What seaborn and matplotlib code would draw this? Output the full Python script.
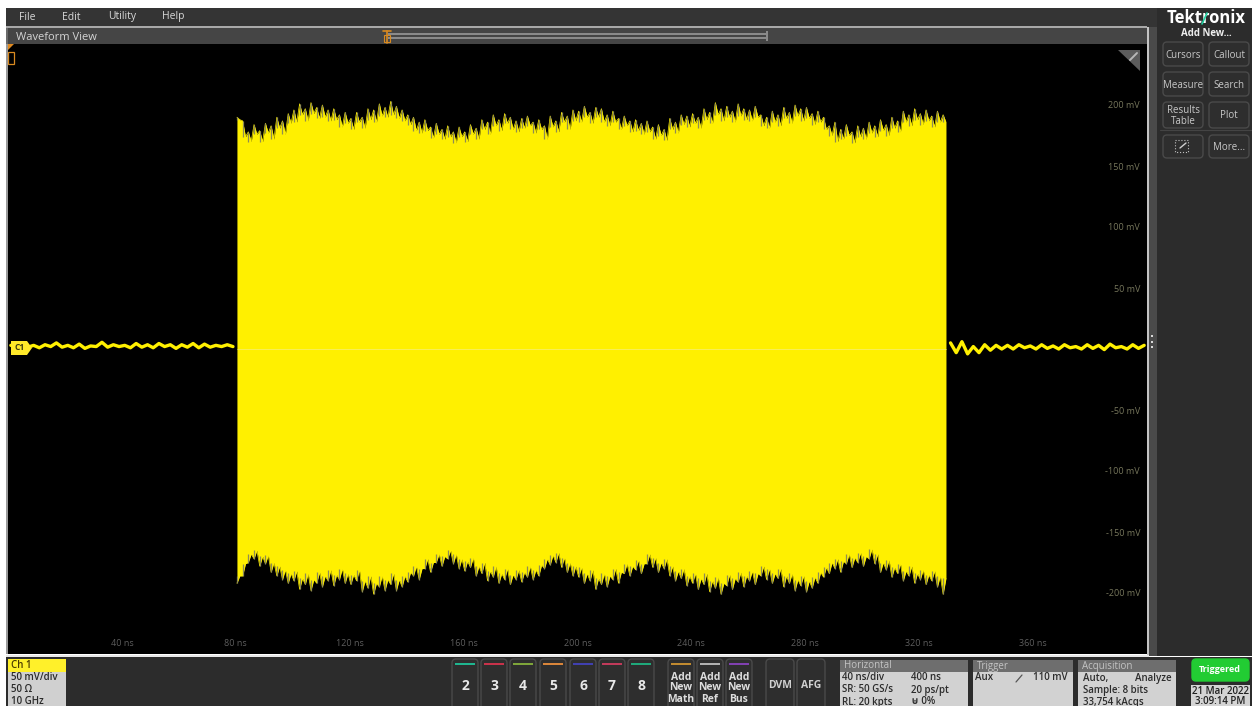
"""Oscilloscope screenshot: 50 mV RF burst on channel 1 with the scope UI around it."""

import matplotlib
matplotlib.use("Agg")
import matplotlib.pyplot as plt
from matplotlib.patches import FancyBboxPatch, Polygon, Rectangle
import seaborn as sns

# waveform data, times in ns and levels in mV
x_ticks = [40, 80, 120, 160, 200, 240, 280, 320, 360]
x_tick_labels = ["40 ns", "80 ns", "120 ns", "160 ns", "200 ns", "240 ns",
                 "280 ns", "320 ns", "360 ns"]
y_ticks = [200, 150, 100, 50, -50, -100, -150, -200]
y_tick_labels = ["200 mV", "150 mV", "100 mV", "50 mV", "-50 mV", "-100 mV",
                 "-150 mV", "-200 mV"]

# sample times of the burst outline, spike tips and the notches between them
burst_time = [t + 0.4 for t in range(80, 330)]
upper_tips = [
    190, 187, 178, 184, 179, 185, 183, 190, 187, 193,
    196, 201, 197, 202, 198, 200, 196, 197, 192, 194,
    189, 194, 190, 197, 196, 201, 198, 203, 199, 196,
    192, 190, 186, 188, 182, 185, 180, 183, 178, 182,
    178, 184, 181, 188, 186, 192, 188, 193, 190, 187,
    189, 191, 186, 188, 183, 191, 187, 194, 191, 196,
    195, 199, 194, 198, 197, 192, 195, 189, 191, 187,
    188, 185, 187, 182, 184, 180, 189, 186, 192, 191,
    193, 190, 197, 194, 202, 197, 199, 195, 201, 197,
    196, 199, 192, 190, 195, 192, 198, 194, 200, 197,
    198, 193, 195, 190, 183, 186, 180, 184, 178, 183,
    181, 186, 183, 188, 184, 190, 187, 195, 192, 197,
    193, 196, 191, 195, 192]
upper_body = [
    188, 174, 170, 176, 170, 177, 172, 181, 176, 185,
    186, 192, 187, 193, 189, 190, 187, 188, 182, 185,
    180, 186, 181, 188, 186, 191, 190, 192, 189, 187,
    184, 179, 177, 179, 173, 176, 172, 174, 169, 174,
    170, 176, 172, 180, 176, 183, 179, 185, 180, 178,
    181, 183, 177, 180, 172, 182, 178, 186, 180, 187,
    186, 190, 185, 190, 186, 183, 186, 180, 183, 178,
    179, 176, 178, 172, 175, 171, 180, 177, 184, 182,
    185, 181, 188, 185, 192, 187, 190, 186, 191, 188,
    187, 190, 183, 181, 186, 183, 189, 185, 191, 187,
    189, 184, 186, 180, 175, 170, 172, 175, 169, 174,
    172, 177, 174, 179, 175, 181, 178, 186, 183, 188,
    184, 187, 182, 186, 186]
lower_tips = [
    -192, -186, -175, -172, -178, -176, -183, -186, -189, -192,
    -190, -197, -193, -198, -192, -195, -190, -194, -189, -192,
    -193, -190, -199, -196, -201, -195, -198, -193, -198, -195,
    -191, -186, -189, -180, -183, -175, -178, -172, -176, -180,
    -182, -179, -186, -184, -190, -187, -192, -189, -193, -189,
    -191, -187, -189, -186, -180, -177, -175, -179, -183, -186,
    -187, -192, -190, -197, -193, -195, -189, -192, -184, -186,
    -181, -184, -176, -179, -183, -180, -186, -190, -188, -194,
    -192, -197, -193, -199, -196, -201, -194, -197, -191, -195,
    -190, -193, -186, -189, -192, -188, -195, -192, -198, -194,
    -199, -196, -192, -187, -184, -180, -183, -176, -179, -175,
    -178, -172, -176, -183, -181, -187, -184, -190, -186, -192,
    -189, -193, -190, -195, -201]
lower_body = [
    -186, -176, -168, -165, -170, -169, -175, -178, -181, -184,
    -182, -188, -184, -189, -183, -186, -181, -185, -180, -184,
    -185, -181, -190, -186, -192, -186, -189, -184, -189, -186,
    -183, -178, -180, -172, -175, -168, -170, -165, -168, -172,
    -174, -171, -178, -175, -182, -178, -184, -180, -185, -181,
    -183, -178, -181, -177, -172, -169, -167, -171, -175, -178,
    -179, -184, -181, -188, -184, -186, -180, -183, -176, -178,
    -173, -176, -168, -171, -175, -172, -178, -182, -180, -186,
    -184, -188, -184, -190, -187, -192, -185, -188, -183, -186,
    -182, -184, -178, -180, -184, -180, -186, -184, -189, -186,
    -190, -187, -183, -179, -175, -172, -174, -168, -171, -167,
    -170, -164, -168, -175, -173, -179, -176, -182, -178, -184,
    -181, -185, -182, -186, -188]

idle_time_before = list(range(1, 80, 2))
idle_level_before = [
    3, 2, 4, 1.5, 3, 1, 3.5, 2, 5, 1.5,
    3, 1, 4, 0.5, 2.5, 2, 5.5, 1.5, 3.5, 2,
    3, 1, 4.5, 1.5, 3.5, 1, 4.5, 2, 3.5, 0.5,
    3.5, 1.5, 4.5, 1, 4, 1.5, 3, 2, 3.5, 2]
idle_time_after = list(range(331, 400, 2))
idle_level_after = [
    5, -3, 6, -4, 2, -3, 3.5, -1, 3, 0,
    3, 0, 3.5, 1, 2.5, 0, 3.5, 0.5, 2.5, 0,
    3.5, 1, 2, 0, 3.5, 0.5, 3, -0.5, 4, 1,
    2, 0, 3.5, 0.5, 3]

# top and bottom bar text
menu_items = ["File", "Edit", "Utility", "Help"]
menu_x = [27, 71, 122, 173]
channel_numbers = ["2", "3", "4", "5", "6", "7", "8"]
channel_x = [465, 494, 523, 553, 583, 612, 641]
channel_colors = ["#1fb58f", "#c8324a", "#7ea53a", "#d9853a", "#4040b0",
                  "#c03a5a", "#1fa87a"]
add_labels = ["Add\nNew\nMath", "Add\nNew\nRef", "Add\nNew\nBus"]
add_x = [681, 710, 739]
add_colors = ["#c08a30", "#b0b0b0", "#8040b0"]

W, H = 1252, 706
PLOT_L, PLOT_R, PLOT_T, PLOT_B = 8, 1147, 44, 654
YELLOW = "#fff000"
FRINGE = "#8f8b55"
PANEL = "#2c2c2c"
FONT = ["Open Sans", "DejaVu Sans"]

sns.set_theme(style="dark")
plt.rcParams["font.family"] = FONT

fig = plt.figure(figsize=(W / 100, H / 100), dpi=100, facecolor="white")
ax = fig.add_axes([PLOT_L / W, 1 - PLOT_B / H, (PLOT_R - PLOT_L) / W,
                   (PLOT_B - PLOT_T) / H], facecolor="black", zorder=1)

# burst outline zigzags between spike tips and notches
upper_outline = [v for pair in zip(upper_tips, upper_body) for v in pair]
lower_outline = [v for pair in zip(lower_tips, lower_body) for v in pair]
tip_time = burst_time[::2]

ax.fill_between(burst_time, lower_outline, upper_outline, color=YELLOW, lw=0)
sns.lineplot(x=burst_time, y=upper_outline, color=YELLOW, lw=0.5, ax=ax,
             estimator=None)
sns.lineplot(x=burst_time, y=lower_outline, color=YELLOW, lw=0.5, ax=ax,
             estimator=None)
# grey core of each spike
ax.vlines(tip_time, upper_body, upper_tips, color=FRINGE, lw=0.9, zorder=3)
ax.vlines(tip_time, lower_tips, lower_body, color=FRINGE, lw=0.9, zorder=3)
ax.hlines(0, burst_time[0], burst_time[-1], color="#f7ee66", lw=0.6, zorder=3)

# idle trace either side of the burst
sns.lineplot(x=idle_time_before, y=idle_level_before, color=YELLOW, lw=2.4,
             ax=ax, estimator=None)
sns.lineplot(x=idle_time_after, y=idle_level_after, color=YELLOW, lw=2.4,
             ax=ax, estimator=None)

ax.set_xlim(0, 400)
ax.set_ylim(-250, 250)
ax.set_xlabel("")
ax.set_ylabel("")
ax.grid(False)
for spine in ax.spines.values():
    spine.set_visible(False)
ax.set_xticks(x_ticks)
ax.set_xticklabels(x_tick_labels)
ax.set_yticks(y_ticks)
ax.set_yticklabels(y_tick_labels, ha="right")
ax.yaxis.tick_right()
ax.tick_params(axis="x", length=0, pad=-11, labelsize=6.5, labelcolor="#5e5e5e")
ax.tick_params(axis="y", length=0, pad=-5, labelsize=6.5, labelcolor="#77775c")

# the scope UI is drawn in pixel coordinates on a transparent layer
ui = fig.add_axes([0, 0, 1, 1], zorder=2)
ui.set_xlim(0, W)
ui.set_ylim(H, 0)
ui.axis("off")


def rect(x0, y0, x1, y1, color, z=1):
    ui.add_patch(Rectangle((x0, y0), x1 - x0, y1 - y0, fc=color, ec="none",
                           zorder=z))


def button(x0, y0, x1, y1, fc="#2e2e2e", ec="#4a4a4a"):
    ui.add_patch(FancyBboxPatch((x0 + 3, y0 + 3), x1 - x0 - 6, y1 - y0 - 6,
                                boxstyle="round,pad=3,rounding_size=4",
                                fc=fc, ec=ec, lw=1, zorder=2))


def label(x, y, s, size=7.5, color="#d8d8d8", weight="normal", ha="center"):
    ui.text(x, y, s, fontsize=size, color=color, fontweight=weight, ha=ha,
            va="center", linespacing=1.0, zorder=4)


# panels around the plot
rect(6, 8, PLOT_L, PLOT_T, "#6a6a6a")
rect(6, 8, W, 27, "#343434")
rect(6, 26, PLOT_R, 28, "#a8a8a8")
rect(8, 28, PLOT_R, PLOT_T, "#454545")
rect(6, PLOT_T, PLOT_L, PLOT_B, "#9a9a9a")
rect(PLOT_R, 27, PLOT_R + 2, 656, "#c4c4c4")
rect(PLOT_R + 2, 27, 1157, 656, "#4a4a4a")
rect(1157, 8, W, 656, PANEL)
rect(6, 655, PLOT_R + 2, 657, "#e8e8e8")
rect(6, 657, W, H, PANEL)

for i, item in enumerate(menu_items):
    label(menu_x[i], 17, item, size=7.5)
label(16, 37, "Waveform View", size=8, color="#d4d4d4", ha="left")

# time navigator
rect(388, 33, 767, 35, "#8a8a8a", z=3)
rect(388, 37, 767, 39, "#8a8a8a", z=3)
rect(766, 31, 768, 41, "#8a8a8a", z=3)
ui.plot([383, 391], [31, 31], color="#d98a20", lw=1.2, zorder=4)
ui.plot([387, 387], [31, 43], color="#d98a20", lw=1.2, zorder=4)
ui.add_patch(Rectangle((384, 35), 6, 7, fc="none", ec="#d98a20", lw=0.8,
                       zorder=4))
ui.add_patch(Polygon([(8, 44), (14, 44), (8, 50)], fc="#e08a20", ec="none",
                     zorder=4))
ui.add_patch(Rectangle((8, 52), 6, 12, fc="none", ec="#d98a20", lw=0.9,
                       zorder=4))

# corner wrench and splitter dots
ui.add_patch(Polygon([(1118, 50), (1140, 50), (1140, 71)], fc="#5c5c5c",
                     ec="none", zorder=4))
ui.plot([1130, 1137], [60, 53], color="#b8b8b8", lw=1.4, zorder=5)
for dot_y in [335, 341, 346]:
    rect(1151, dot_y, 1153, dot_y + 2, "#d8d8d8", z=4)

# channel badge
ui.add_patch(Polygon([(11, 341), (27, 341), (32, 348), (27, 355), (11, 355)],
                     fc="#ffe92a", ec="none", zorder=4))
label(20, 348, "C1", size=6, color="#3a3a10", weight="bold")

# right hand button column
label(1206, 18, "Tektronix", size=12, color="white", weight="bold")
ui.plot([1202, 1207], [24, 13], color="#1fd0a0", lw=1.2, zorder=5)
label(1206, 33, "Add New...", size=7, color="#eeeeee", weight="bold")
right_buttons = [
    (1163, 42, 1203, 66, "Cursors"), (1209, 42, 1249, 66, "Callout"),
    (1163, 72, 1203, 96, "Measure"), (1209, 72, 1249, 96, "Search"),
    (1163, 102, 1203, 128, "Results\nTable"), (1209, 102, 1249, 128, "Plot"),
    (1163, 135, 1203, 158, ""), (1209, 135, 1249, 158, "More..."),
]
for x0, y0, x1, y1, text in right_buttons:
    button(x0, y0, x1, y1)
    label((x0 + x1) / 2, (y0 + y1) / 2 + 1, text, size=7, color="#c8c8c8")
ui.plot([1160, 1252], [130, 130], color="#444444", lw=0.8, zorder=3)
ui.add_patch(Rectangle((1175, 140), 13, 12, fc="none", ec="#c0c0c0", lw=0.8,
                       ls=":", zorder=4))
ui.plot([1180, 1186], [148, 143], color="#d0d0d0", lw=1, zorder=5)

# channel 1 info box
rect(8, 659, 66, 672, "#fff02a", z=3)
rect(8, 672, 66, H, "#d0d0d0", z=3)
label(11, 665, "Ch 1", size=7, color="#4a3a00", weight="semibold", ha="left")
label(11, 677, "50 mV/div", size=7, color="#2a2a2a", weight="semibold", ha="left")
label(11, 689, "50 Ω", size=7, color="#2a2a2a", weight="semibold", ha="left")
label(11, 701, "10 GHz", size=7, color="#2a2a2a", weight="semibold", ha="left")

# channel and add-new buttons
for i, name in enumerate(channel_numbers):
    cx = channel_x[i]
    button(cx - 13, 659, cx + 13, H + 6)
    rect(cx - 10, 663, cx + 10, 665, channel_colors[i], z=4)
    label(cx, 686, name, size=10, color="#e8e8e8", weight="bold")
for i, name in enumerate(add_labels):
    cx = add_x[i]
    button(cx - 13, 659, cx + 13, H + 6)
    rect(cx - 10, 663, cx + 10, 665, add_colors[i], z=4)
    label(cx, 688, name, size=7.5, color="#dddddd", weight="bold")
for cx, name in [(780, "DVM"), (811, "AFG")]:
    button(cx - 14, 659, cx + 14, H + 6)
    label(cx, 686, name, size=7.5, color="#d0d0d0", weight="bold")

# status boxes
info_boxes = [
    (840, 968, "Horizontal"), (973, 1073, "Trigger"), (1078, 1176, "Acquisition"),
]
for x0, x1, title in info_boxes:
    rect(x0, 660, x1, 672, "#6e6e6e", z=3)
    rect(x0, 672, x1, H, "#d2d2d2", z=3)
    label(x0 + 4, 666, title, size=7, color="#c4c4c4", ha="left")
status_text = [
    (842, 678, "40 ns/div"), (911, 678, "400 ns"),
    (842, 690, "SR: 50 GS/s"), (911, 690, "20 ps/pt"),
    (842, 702, "RL: 20 kpts"), (911, 702, "⊎ 0%"),
    (975, 678, "Aux"), (1033, 678, "110 mV"),
    (1083, 678, "Auto,"), (1083, 690, "Sample: 8 bits"),
    (1083, 702, "33,754 kAcqs"),
]
for x, y, text in status_text:
    label(x, y, text, size=7, color="#2c2c2c", weight="semibold", ha="left")
label(1172, 678, "Analyze", size=7, color="#2c2c2c", weight="semibold", ha="right")
ui.plot([1016, 1022], [682, 675], color="#555555", lw=0.9, zorder=4)

button(1192, 659, 1249, 681, fc="#22cc33", ec="#22cc33")
label(1220, 669, "Triggered", size=6.5, color="white", weight="bold")
rect(1191, 685, 1250, H, "#d4d4d4", z=3)
label(1220, 691, "21 Mar 2022", size=7, color="#222222", weight="semibold")
label(1220, 701, "3:09:14 PM", size=7, color="#222222", weight="semibold")

fig.savefig("out.png", dpi=100)
plt.close(fig)
